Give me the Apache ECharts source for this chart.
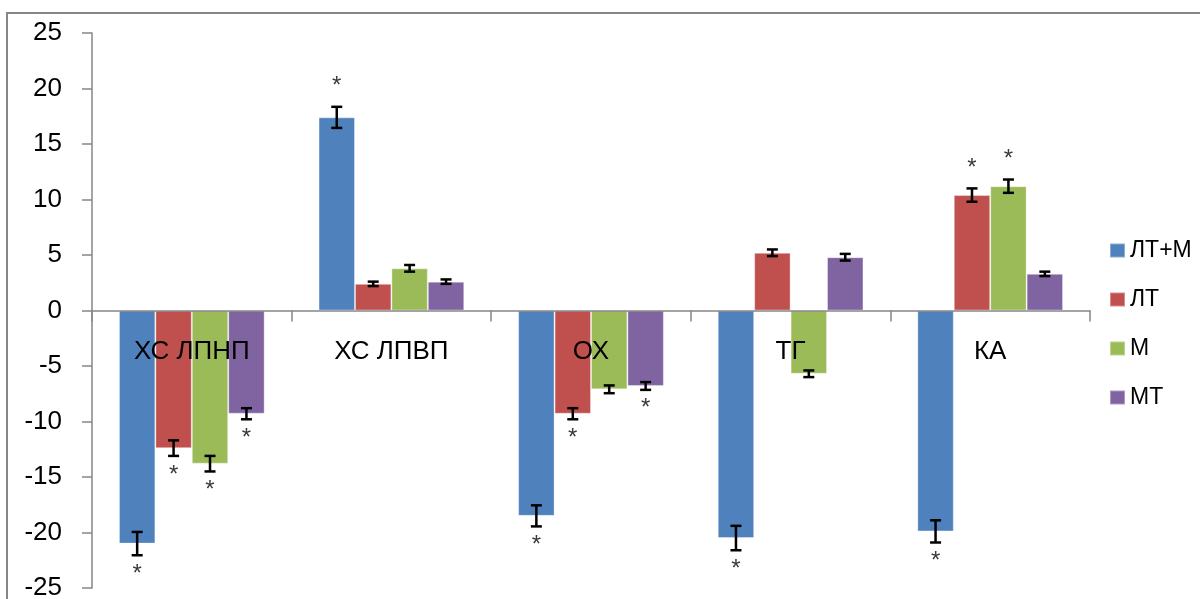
<!DOCTYPE html>
<html>
<head>
<meta charset="utf-8">
<script src="https://cdn.jsdelivr.net/npm/echarts@6/dist/echarts.min.js"></script>
<style>
html,body{margin:0;padding:0;background:#fff;}
#chart{width:1200px;height:599px;}
</style>
</head>
<body>
<div id="chart"></div>
<script>
const categories = ['ХС ЛПНП', 'ХС ЛПВП', 'ОХ', 'ТГ', 'КА'];
const seriesNames = ['ЛТ+М', 'ЛТ', 'М', 'МТ'];
const yTicks = [-25, -20, -15, -10, -5, 0, 5, 10, 15, 20, 25];

const valLTM = [-21.0, 17.4, -18.5, -20.5, -19.9];
const valLT  = [-12.4, 2.4, -9.3, 5.2, 10.4];
const valM   = [-13.8, 3.8, -7.1, -5.7, 11.2];
const valMT  = [-9.3, 2.6, -6.8, 4.8, 3.3];

const errLTM = [1.05, 0.95, 0.95, 1.1, 1.0];
const errLT  = [0.7, 0.2, 0.5, 0.3, 0.6];
const errM   = [0.7, 0.3, 0.35, 0.3, 0.6];
const errMT  = [0.5, 0.2, 0.35, 0.3, 0.2];

const starLTM = [1, 1, 1, 1, 1];
const starLT  = [1, 0, 1, 0, 1];
const starM   = [1, 0, 0, 0, 1];
const starMT  = [1, 0, 1, 0, 0];

const colors = ['#4F81BD', '#C0504D', '#9BBB59', '#8064A2'];
const values = [valLTM, valLT, valM, valMT];
const errors = [errLTM, errLT, errM, errMT];
const stars = [starLTM, starLT, starM, starMT];

const FONT = 'Liberation Sans, Arial, sans-serif';
const GROUP_FRAC = 0.73;

const errData = [];
values.forEach((arr, s) => {
  arr.forEach((v, c) => {
    errData.push([c, s, v, errors[s][c], stars[s][c]]);
  });
});

function renderErr(params, api) {
  const c = api.value(0), s = api.value(1), v = api.value(2), e = api.value(3), st = api.value(4);
  const band = api.size([1, 0])[0];
  const barW = band * GROUP_FRAC / 4;
  const cx = api.coord([c, 0])[0] + (s - 1.5) * barW;
  const yHi = api.coord([c, v + e])[1];
  const yLo = api.coord([c, v - e])[1];
  const cap = 5.5;
  const lineStyle = { stroke: '#000', lineWidth: 2.5 };
  const children = [
    { type: 'line', shape: { x1: cx, y1: yHi, x2: cx, y2: yLo }, style: lineStyle },
    { type: 'line', shape: { x1: cx - cap, y1: yHi, x2: cx + cap, y2: yHi }, style: lineStyle },
    { type: 'line', shape: { x1: cx - cap, y1: yLo, x2: cx + cap, y2: yLo }, style: lineStyle }
  ];
  if (st) {
    const y = v >= 0 ? yHi - 20 : yLo + 19;
    children.push({
      type: 'text',
      style: { text: '*', x: cx, y: y, align: 'center', verticalAlign: 'middle',
               fill: '#3a3a3a', font: '24px ' + FONT }
    });
  }
  return { type: 'group', children: children };
}

function renderCat(params, api) {
  const c = api.value(0);
  const p = api.coord([c, 0]);
  return {
    type: 'text',
    style: { text: categories[c], x: p[0], y: p[1] + 41, align: 'center', verticalAlign: 'middle',
             fill: '#000', font: '26px ' + FONT }
  };
}

const series = seriesNames.map((name, s) => ({
  name: name,
  type: 'bar',
  data: values[s],
  barGap: '0%',
  barCategoryGap: '27%',
  itemStyle: { color: colors[s], borderColor: 'rgba(255,255,255,0.35)', borderWidth: 1 },
  z: 2
}));
series.push({
  type: 'custom',
  renderItem: renderErr,
  data: errData,
  z: 5,
  silent: true
});
series.push({
  type: 'custom',
  renderItem: renderCat,
  data: categories.map((c, i) => [i, 0]),
  z: 6,
  silent: true
});

const chart = echarts.init(document.getElementById('chart'));
chart.setOption({
  animation: false,
  backgroundColor: '#fff',
  color: colors,
  grid: { left: 92, right: 110, top: 33, bottom: 11, containLabel: false, outerBoundsMode: 'none' },
  graphic: [{
    type: 'rect', z: 100, silent: true,
    shape: { x: 7, y: 13, width: 1400, height: 800 },
    style: { fill: 'none', stroke: '#868686', lineWidth: 2 }
  }],
  legend: {
    orient: 'vertical',
    left: 1104,
    top: 234,
    itemWidth: 15,
    itemHeight: 14,
    itemGap: 26,
    icon: 'rect',
    data: seriesNames,
    textStyle: { fontFamily: FONT, fontSize: 23, color: '#000' }
  },
  xAxis: {
    type: 'category',
    data: categories,
    z: 10,
    axisLine: { onZero: true, lineStyle: { color: '#868686', width: 1.5 } },
    axisTick: { show: true, length: 11, interval: 0, lineStyle: { color: '#868686', width: 1.5 } },
    axisLabel: { show: false },
    splitLine: { show: false }
  },
  yAxis: {
    type: 'value',
    min: yTicks[0],
    max: yTicks[yTicks.length - 1],
    interval: 5,
    axisLine: { show: true, lineStyle: { color: '#868686', width: 1.5 } },
    axisTick: { show: true, length: 10, lineStyle: { color: '#868686', width: 1.5 } },
    axisLabel: { margin: 30, fontFamily: FONT, fontSize: 26, color: '#000' },
    splitLine: { show: false }
  },
  series: series
});
</script>
</body>
</html>
